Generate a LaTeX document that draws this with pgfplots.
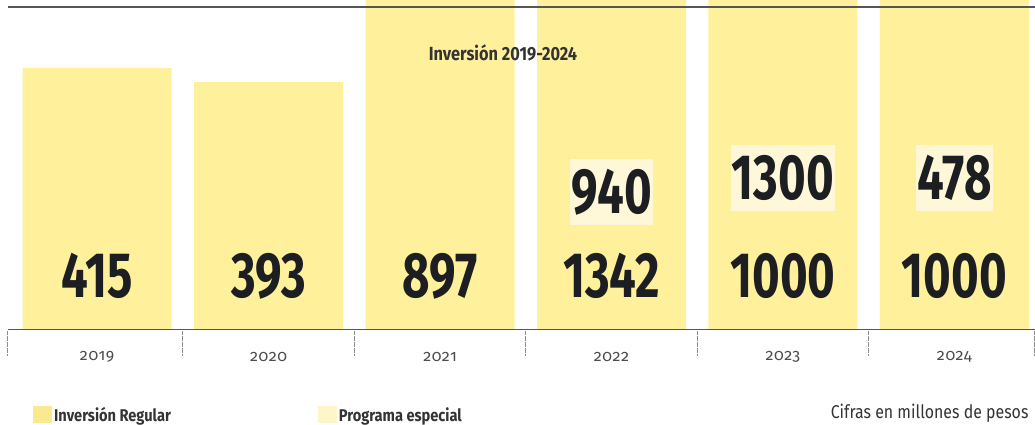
\documentclass[border=0pt]{standalone}
\usepackage{fontspec}
\setmainfont{Fira Sans}
\newfontfamily\numfont[FakeStretch=0.74]{Fira Sans}
\newfontfamily\condfont[FakeStretch=0.86]{Fira Sans}
\newfontfamily\yearfont[Numbers=OldStyle,LetterSpace=4]{Fira Sans}
\usepackage{pgfplots}
\usepackage{pgfplotstable}
\pgfplotsset{compat=1.18}

\definecolor{barcol}{HTML}{FFF09C}
\definecolor{regcol}{HTML}{FBE98F}
\definecolor{espcol}{HTML}{FEF5C8}
\definecolor{lblbg}{HTML}{FFF8D8}
\definecolor{numcol}{HTML}{1C1E22}
\definecolor{linecol}{HTML}{555555}

% inversion por anio (millones de pesos)
\pgfplotstableread{
x year regular especial
0 2019 415 0
1 2020 393 0
2 2021 897 0
3 2022 1342 940
4 2023 1000 1300
5 2024 1000 478
}\datatable

% posicion de las cifras dentro de las barras
\pgfplotstableread{
x y label
0 85.6 415
1 85.6 393
2 85.6 897
3 85.6 1342
4 85.6 1000
5 85.6 1000
}\lowlabels
\pgfplotstableread{
x y label
3 218.7 940
4 241 1300
5 241 478
}\toplabels

\pgfplotsset{
    common/.style={
        scale only axis,
        width=1027pt, height=330pt,
        xmin=-0.52, xmax=5.47,
        ymin=0, ymax=523,
    },
}

\begin{document}
\begin{tikzpicture}
    \useasboundingbox (-8pt,-95pt) rectangle (1027pt,330pt);
    \begin{axis}[
            common,
            ybar stacked,
            bar width=0.869,
            axis on top,
            axis x line*=bottom,
            axis y line=none,
            x axis line style={draw=linecol, line width=1pt, -},
            xtick={0,...,5},
            xticklabels={2019,2020,2021,2022,2023,2024},
            major tick length=0pt,
            xticklabel style={font=\yearfont\fontsize{16}{16}\selectfont, text=black!70, anchor=center, yshift=-27pt},
            extra x ticks={-0.52,0.5,1.5,2.5,3.5,4.5,5.47},
            extra x tick labels={},
            extra x tick style={tick align=outside, major tick length=25pt,
                tick style={draw=black!45, densely dotted, line width=1pt}},
            legend columns=2,
            legend style={draw=none, fill=none, at={(rel axis cs:0,0)}, anchor=south west,
                xshift=25pt, yshift=-95pt, inner sep=0pt,
                font=\condfont\bfseries\fontsize{17}{17}\selectfont, text=black!80,
                /tikz/every even column/.append style={column sep=145pt}},
            legend image code/.code={\fill[#1, draw=none] (0pt,-8pt) rectangle (19pt,9pt);},
        ]
        \addplot[fill=barcol, draw=none, forget plot] table[x=x, y=regular] {\datatable};
        \addplot[fill=barcol, draw=none, forget plot] table[x=x, y=especial] {\datatable};
        \addlegendimage{fill=regcol, draw=none}
        \addlegendentry{Inversión Regular}
        \addlegendimage{fill=espcol, draw=none}
        \addlegendentry{Programa especial}
    \end{axis}
    \begin{axis}[
            common,
            hide axis,
            clip=false,
            nodes near coords,
            point meta=explicit symbolic,
            nodes near coords style={anchor=center, text=numcol,
                font=\numfont\bfseries\fontsize{64}{64}\selectfont},
        ]
        \addplot[draw=none] table[x=x, y=y, meta=label] {\lowlabels};
        \addplot[draw=none, nodes near coords style={fill=lblbg, inner xsep=1pt, inner ysep=10pt}]
            table[x=x, y=y, meta=label] {\toplabels};
        \addplot[draw=linecol, line width=1.6pt, nodes near coords=]
            coordinates {(-0.52,512) (5.47,512)};
        \node[font=\condfont\bfseries\fontsize{19}{19}\selectfont, text=black!80]
            at (axis cs:2.367,440) {Inversión 2019-2024};
        \node[anchor=east, font=\condfont\fontsize{18.5}{18.5}\selectfont, text=black!80]
            at (rel axis cs:1,0) [xshift=-3pt, yshift=-83pt] {Cifras en millones de pesos};
    \end{axis}
\end{tikzpicture}
\end{document}
